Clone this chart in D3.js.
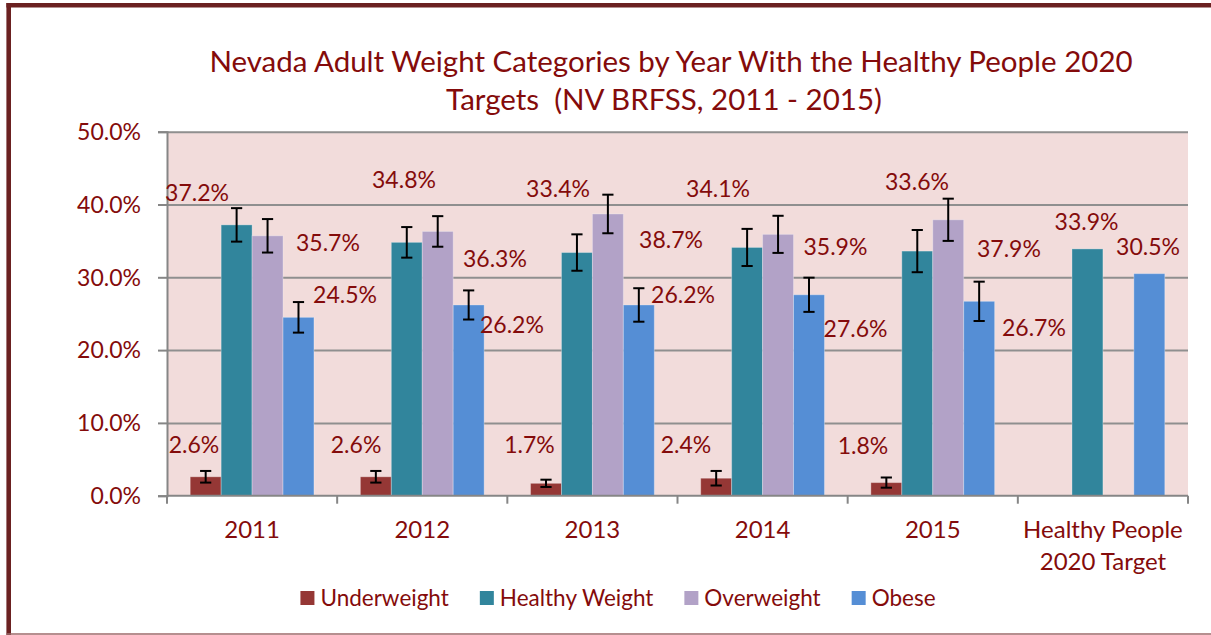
<!DOCTYPE html>
<html>
<head>
<meta charset="utf-8">
<script src="https://cdn.jsdelivr.net/npm/d3@7"></script>
<style>
  html, body { margin: 0; padding: 0; background: #ffffff; }
  svg { display: block; }
  text { font-family: Lato, "Open Sans", sans-serif; fill: #840b0b; }
</style>
</head>
<body>
<svg id="chart" width="1211" height="635"></svg>
<script>
// ---- data ----
const categories = ["2011", "2012", "2013", "2014", "2015", "Healthy People 2020 Target"];
const seriesNames = ["Underweight", "Healthy Weight", "Overweight", "Obese"];
const underweight   = [2.6, 2.6, 1.7, 2.4, 1.8, null];
const healthyWeight = [37.2, 34.8, 33.4, 34.1, 33.6, 33.9];
const overweight    = [35.7, 36.3, 38.7, 35.9, 37.9, null];
const obese         = [24.5, 26.2, 26.2, 27.6, 26.7, 30.5];
// 95% confidence half-widths (percentage points)
const underweightErr   = [0.8, 0.8, 0.5, 1.0, 0.7, null];
const healthyWeightErr = [2.3, 2.1, 2.5, 2.55, 2.9, null];
const overweightErr    = [2.3, 2.1, 2.65, 2.55, 2.9, null];
const obeseErr         = [2.1, 2.0, 2.3, 2.35, 2.7, null];
const yTicks = [0, 10, 20, 30, 40, 50];
const titleLines = ["Nevada Adult Weight Categories by Year With the Healthy People 2020",
                    "Targets  (NV BRFSS, 2011 - 2015)"];

// ---- presentation ----
const colors = {
  "Underweight": "#953735",
  "Healthy Weight": "#31859c",
  "Overweight": "#b2a2c7",
  "Obese": "#558ed5"
};
// hand-placed data label offsets (dx from bar centre, dy from bar top)
const labelNudge = {
  "Underweight":    [[-11.7, -23.8], [-19.8, -23.8], [-16.5, -30.3], [-30.2, -25.2], [-23.4, -28.6], null],
  "Healthy Weight": [[-39.6, -23.9], [-2.8, -54.1], [-18.9, -55.8], [-29.1, -50.8], [-0.3, -61.1], [-0.9, -18.9]],
  "Overweight":     [[60.4, 14.9], [57.2, 35.6], [63.1, 33.7], [57.4, 20.7], [60.7, 36.9], null],
  "Obese":          [[46.5, -14], [43.3, 28], [44.2, -1.7], [46.5, 41.9], [54.8, 34.7], [-1.3, -18.7]]
};

const valuesBySeries = {
  "Underweight": underweight,
  "Healthy Weight": healthyWeight,
  "Overweight": overweight,
  "Obese": obese
};
const errBySeries = {
  "Underweight": underweightErr,
  "Healthy Weight": healthyWeightErr,
  "Overweight": overweightErr,
  "Obese": obeseErr
};

const plot = { left: 167, right: 1188, top: 131.7, bottom: 495.7 };
const fontSize = 23;

const svg = d3.select("#chart");

// outer frame
svg.append("line").attr("x1", 8.7).attr("x2", 8.7).attr("y1", 3).attr("y2", 635)
  .attr("stroke", "#6b2121").attr("stroke-width", 4.6);
svg.append("line").attr("x1", 6.4).attr("x2", 1211).attr("y1", 5.3).attr("y2", 5.3)
  .attr("stroke", "#6b2121").attr("stroke-width", 4.6);
svg.append("line").attr("x1", 6.4).attr("x2", 1211).attr("y1", 634).attr("y2", 634)
  .attr("stroke", "#9c6a6a").attr("stroke-width", 1.6);

// scales
const x = d3.scaleBand().domain(categories).range([plot.left, plot.right]).paddingInner(0).paddingOuter(0);
const xs = d3.scaleBand().domain(seriesNames).range([0, x.bandwidth()]).paddingInner(0).paddingOuter(0.75);
const y = d3.scaleLinear().domain([0, 50]).range([plot.bottom, plot.top]);

// plot background
svg.append("rect")
  .attr("x", plot.left).attr("y", plot.top)
  .attr("width", plot.right - plot.left).attr("height", plot.bottom - plot.top)
  .attr("fill", "#f2dcdb");

// gridlines
const grid = svg.append("g").attr("transform", `translate(${plot.left},0)`)
  .call(d3.axisLeft(y).tickValues(yTicks.filter(t => t > 0)).tickSize(-(plot.right - plot.left)).tickFormat(""));
grid.select(".domain").remove();
grid.selectAll("line").attr("stroke", "#8f8f8f").attr("stroke-width", 2);

// y axis
const yAxis = svg.append("g").attr("transform", `translate(${plot.left},0)`)
  .call(d3.axisLeft(y).tickValues(yTicks).tickSize(9).tickPadding(17).tickFormat(d => d.toFixed(1) + "%"));
yAxis.select(".domain").attr("stroke", "#868686").attr("stroke-width", 2);
yAxis.selectAll(".tick line").attr("stroke", "#868686").attr("stroke-width", 2);
yAxis.selectAll("text").attr("font-size", fontSize).attr("font-family", "Lato").attr("fill", "#840b0b")
  .attr("dy", "0.34em");

// bars
const groups = svg.append("g").selectAll("g")
  .data(categories)
  .join("g")
  .attr("transform", c => `translate(${x(c)},0)`);

const barData = (c, i) => seriesNames
  .map(s => ({ s, i, v: valuesBySeries[s][i], e: errBySeries[s][i], nudge: labelNudge[s][i] }))
  .filter(d => d.v != null);

groups.each(function (c, i) {
  const g = d3.select(this);
  const data = barData(c, i);
  g.selectAll("rect").data(data).join("rect")
    .attr("x", d => xs(d.s))
    .attr("width", xs.bandwidth())
    .attr("y", d => y(d.v))
    .attr("height", d => y(0) - y(d.v))
    .attr("fill", d => colors[d.s])
    .attr("stroke", "#ffffff").attr("stroke-opacity", 0.3).attr("stroke-width", 1);

  // error bars
  const eb = g.selectAll("g.err").data(data.filter(d => d.e != null)).join("g").attr("class", "err")
    .attr("transform", d => `translate(${xs(d.s) + xs.bandwidth() / 2},0)`);
  eb.append("line").attr("y1", d => y(d.v + d.e)).attr("y2", d => y(d.v - d.e))
    .attr("stroke", "#000").attr("stroke-width", 2);
  eb.append("line").attr("x1", -5.6).attr("x2", 5.6).attr("y1", d => y(d.v + d.e)).attr("y2", d => y(d.v + d.e))
    .attr("stroke", "#000").attr("stroke-width", 2);
  eb.append("line").attr("x1", -5.6).attr("x2", 5.6).attr("y1", d => y(d.v - d.e)).attr("y2", d => y(d.v - d.e))
    .attr("stroke", "#000").attr("stroke-width", 2);
});

// x axis line and category boundary ticks
svg.append("line").attr("x1", plot.left).attr("x2", plot.right).attr("y1", plot.bottom).attr("y2", plot.bottom)
  .attr("stroke", "#868686").attr("stroke-width", 2);
const bounds = categories.map(c => x(c)).concat([x(categories[categories.length - 1]) + x.bandwidth()]);
svg.append("g").selectAll("line").data(bounds).join("line")
  .attr("x1", d => d).attr("x2", d => d).attr("y1", plot.bottom).attr("y2", plot.bottom + 8)
  .attr("stroke", "#868686").attr("stroke-width", 2);

// category labels (wrapped to band width)
const xAxis = svg.append("g").attr("transform", `translate(0,${plot.bottom})`)
  .call(d3.axisBottom(x).tickSize(0).tickPadding(0));
xAxis.select(".domain").remove();
xAxis.selectAll("text").attr("font-size", 24).attr("font-family", "Lato").attr("fill", "#840b0b")
  .attr("y", 0).attr("dy", null)
  .each(function (c) {
    const t = d3.select(this);
    const words = c.split(" ");
    t.text(null);
    let lines = [], line = [];
    const probe = t.append("tspan");
    words.forEach(w => {
      line.push(w);
      probe.text(line.join(" "));
      if (probe.node().getComputedTextLength() > x.bandwidth() - 6 && line.length > 1) {
        line.pop();
        lines.push(line.join(" "));
        line = [w];
      }
    });
    lines.push(line.join(" "));
    probe.remove();
    lines.forEach((l, k) => {
      t.append("tspan").attr("x", 0).attr("y", 42 + k * 32.3).text(l);
    });
  });

// data labels
groups.each(function (c, i) {
  const g = d3.select(this);
  g.selectAll("text.lbl").data(barData(c, i)).join("text").attr("class", "lbl")
    .attr("x", d => xs(d.s) + xs.bandwidth() / 2 + d.nudge[0])
    .attr("y", d => y(d.v) + d.nudge[1])
    .attr("text-anchor", "middle")
    .attr("font-size", fontSize)
    .text(d => d.v.toFixed(1) + "%");
});

// title (second line starts a little left of the first line's centre)
svg.append("g").selectAll("text").data(titleLines).join("text")
  .attr("x", (d, k) => k === 0 ? 671 : 664).attr("y", (d, k) => 72 + k * 37.5)
  .attr("text-anchor", "middle")
  .attr("font-size", 29.5)
  .style("white-space", "pre")
  .text(d => d);

// legend
const legend = svg.append("g");
const items = legend.selectAll("g").data(seriesNames).join("g");
items.append("rect").attr("width", 14).attr("height", 14).attr("y", 591).attr("fill", d => colors[d]);
items.append("text").attr("x", 20).attr("y", 605.5).attr("font-size", 22.5).text(d => d);
let cursor = 0;
const widths = [];
items.each(function () {
  const w = d3.select(this).select("text").node().getComputedTextLength();
  widths.push(w);
});
const total = widths.reduce((a, w) => a + 20 + w, 0) + 31 * (widths.length - 1);
cursor = 618 - total / 2;
items.attr("transform", (d, k) => {
  const tx = cursor;
  cursor += 20 + widths[k] + 31;
  return `translate(${tx},0)`;
});
</script>
</body>
</html>
